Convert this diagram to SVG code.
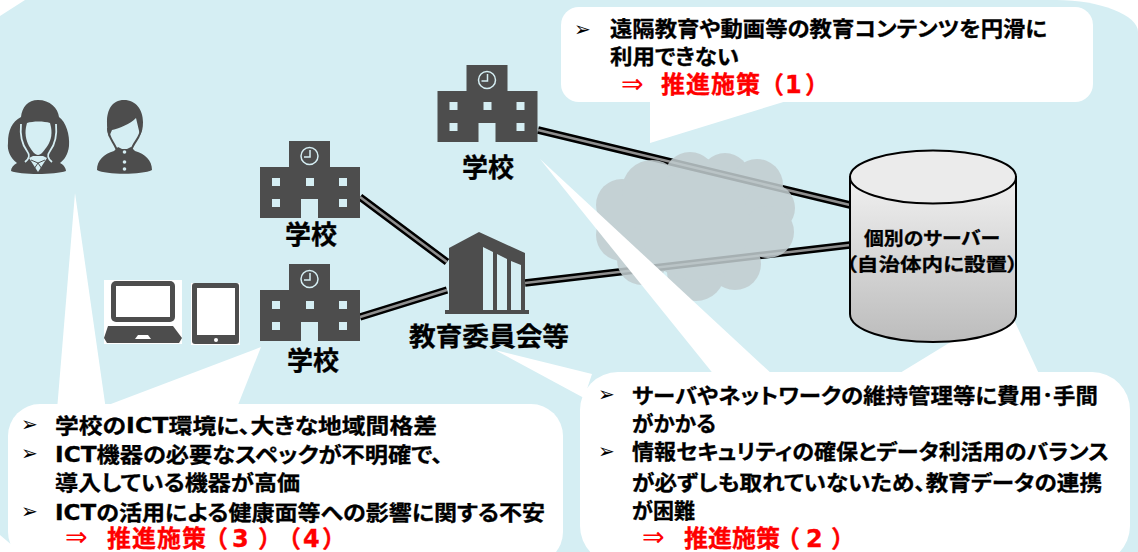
<svg xmlns="http://www.w3.org/2000/svg" xmlns:xlink="http://www.w3.org/1999/xlink" width="1138" height="552" viewBox="0 0 1138 552">
<style>
text{font-family:"DejaVu Sans","Noto Sans CJK JP",sans-serif;font-weight:700;fill:#000;stroke:#000;stroke-width:.3;font-feature-settings:"palt"}
.b{font-size:21px}
.l{font-size:26px}
.s{font-size:18.500px}
.r{fill:#f00;stroke:#f00;font-size:24px;font-feature-settings:normal}
.m{font-family:"DejaVu Sans",sans-serif;font-weight:400;font-size:20px;stroke:none}
.a{font-family:"DejaVu Sans",sans-serif;font-weight:400;font-size:27px;fill:#f00;stroke:none}
.d{fill:#4d4d4d}
.w{fill:#fff}
.o{fill:none;stroke:#000;stroke-width:7.500}
.g{fill:none;stroke:#8f8f8f;stroke-width:2.500}
</style>
<defs>
<linearGradient id="cy" x1="0" y1="0" x2="0" y2="1"><stop offset="0" stop-color="#f0f0f0"/><stop offset="1" stop-color="#bcbcbc"/></linearGradient>
<g id="school">
<path class="d" d="M29 0H70V26H100V77H58V58H41V77H0V26H29Z"/>
<g fill="#d5eef3"><rect x="12" y="37" width="8" height="8"/><rect x="46" y="37" width="8" height="8"/><rect x="79" y="37" width="8" height="8"/><rect x="12" y="58" width="8" height="8"/><rect x="79" y="58" width="8" height="8"/></g>
<circle cx="49.500" cy="15" r="8.500" fill="none" stroke="#d5eef3" stroke-width="1.500"/>
<path d="M50 9V16H44" fill="none" stroke="#d5eef3" stroke-width="1.500"/>
</g>
</defs>
<path id="background" d="M25 0H1056C1100 0 1138 15 1138 32V552H20L0 535V16Z" fill="#d5eef3"/>

<g id="connectors">
<path class="o" d="M538 130L850 205M360 197L447 262M360 317L447 290M525 283L850 245"/>
<path class="g" d="M538 130L850 205M360 197L447 262M360 317L447 290M525 283L850 245"/>
</g>

<g id="cloud" fill="#c2cdd0" opacity=".86">
<circle cx="690" cy="178" r="26"/><circle cx="725" cy="178" r="25"/><circle cx="757" cy="185" r="26"/><circle cx="770" cy="208" r="25"/><circle cx="768" cy="232" r="26"/><circle cx="735" cy="264" r="26"/><circle cx="696" cy="272" r="29"/><circle cx="642" cy="260" r="25"/><circle cx="622" cy="235" r="26"/><circle cx="622" cy="205" r="26"/><circle cx="652" cy="190" r="30"/><circle cx="695" cy="225" r="55"/>
</g>

<g id="tails" class="w">
<path d="M650 100V143L790 100Z"/>
<path d="M75 193L57 410H106Z"/>
<path d="M261 347L95 410H236Z"/>
<path d="M1008 307L895 376H1040Z"/>
<path d="M540 159L715 376H774Z"/>
<path d="M495 350L592 374L584 398Z"/>
</g>

<g id="box-1"><rect class="w" x="561" y="7" width="532" height="95" rx="18"/>
<text class="m" x="574" y="36">➢</text>
<text class="b" x="610" y="36" textLength="437" lengthAdjust="spacingAndGlyphs">遠隔教育や動画等の教育コンテンツを円滑に</text>
<text class="b" x="610" y="64" textLength="129" lengthAdjust="spacingAndGlyphs">利用できない</text>
<text class="a" x="621" y="93">⇒</text>
<text class="r" x="661 686 711 736 760 785 805" y="93">推進施策（1）</text></g>

<g id="box-2"><rect class="w" x="8" y="404" width="555" height="160" rx="32"/>
<text class="m" x="21" y="431">➢</text>
<text class="b" x="55" y="433" textLength="382" lengthAdjust="spacingAndGlyphs">学校のICT環境に、大きな地域間格差</text>
<text class="m" x="21" y="460">➢</text>
<text class="b" x="55" y="462" textLength="388" lengthAdjust="spacingAndGlyphs">ICT機器の必要なスペックが不明確で、</text>
<text class="b" x="55" y="490" textLength="245" lengthAdjust="spacingAndGlyphs">導入している機器が高価</text>
<text class="m" x="21" y="518">➢</text>
<text class="b" x="55" y="520" textLength="490" lengthAdjust="spacingAndGlyphs">ICTの活用による健康面等への影響に関する不安</text>
<text class="a" x="65" y="546">⇒</text>
<text class="r" x="107 132 157 182 204 232 258 277 303 322" y="547">推進施策（3）（4）</text></g>

<g id="box-3"><rect class="w" x="580" y="372" width="550" height="192" rx="38"/>
<text class="m" x="598" y="401">➢</text>
<text class="b" x="632" y="403" textLength="466" lengthAdjust="spacingAndGlyphs">サーバやネットワークの維持管理等に費用･手間</text>
<text class="b" x="632" y="431" textLength="84" lengthAdjust="spacingAndGlyphs">がかかる</text>
<text class="m" x="598" y="458">➢</text>
<text class="b" x="632" y="459" textLength="477" lengthAdjust="spacingAndGlyphs">情報セキュリティの確保とデータ利活用のバランス</text>
<text class="b" x="632" y="490" textLength="470" lengthAdjust="spacingAndGlyphs">が必ずしも取れていないため、教育データの連携</text>
<text class="b" x="632" y="518" textLength="63" lengthAdjust="spacingAndGlyphs">が困難</text>
<text class="a" x="642" y="546">⇒</text>
<text class="r" x="684 708 732 756 776 806 831" y="547">推進施策（2）</text></g>

<g id="school-top"><use xlink:href="#school" href="#school" x="437.500" y="65"/><text class="l" x="488" y="177" text-anchor="middle">学校</text></g>
<g id="school-mid"><use xlink:href="#school" href="#school" x="260" y="141"/><text class="l" x="311" y="244" text-anchor="middle">学校</text></g>
<g id="school-low"><use xlink:href="#school" href="#school" x="260" y="264"/><text class="l" x="313" y="370" text-anchor="middle">学校</text></g>

<g id="board"><path class="d" d="M449 248L479 232L525 253V310H529V314H445V310H449Z"/>
<path fill="#d5eef3" d="M483 247L493 252V310H483ZM497 254L507 259V310H497ZM511 261L521 265V310H511Z"/>
<text class="l" x="489" y="346" text-anchor="middle" textLength="160" lengthAdjust="spacingAndGlyphs">教育委員会等</text></g>

<g id="server"><path d="M850 177V314C850 330 888 342 933 342C978 342 1016 330 1016 314V177Z" fill="url(#cy)" stroke="#000" stroke-width="2"/>
<ellipse cx="933" cy="177" rx="83" ry="26.500" fill="#ebebeb" stroke="#000" stroke-width="2"/>
<text class="s" x="932" y="245" text-anchor="middle" textLength="136" lengthAdjust="spacingAndGlyphs">個別のサーバー</text>
<text class="s" x="932" y="271" text-anchor="middle" textLength="172" lengthAdjust="spacingAndGlyphs">（自治体内に設置）</text></g>

<g id="girl"><path class="d" d="M38 100C50 100 58 108 59 117C66 122 70 135 69 146C68 155 64 160 60 163C65 165 66 170 66 171C55 175 20 175 11 171C11 168 13 165 17 163C10 158 7 150 8 143C8 130 12 122 21 117C22 107 28 100 38 100Z"/>
<path fill="#d5eef3" d="M27 123C33 121 44 121 50 123C53 133 51 140 48 145C44 151 41 155 38 155C35 155 32 151 29 146C26 140 24 133 27 123Z"/>
<path fill="none" stroke="#d5eef3" stroke-width="1.800" d="M21 124C20 134 21 143 27 151C30 155 30 158 25 162M56 124C57 134 56 143 50 151C47 155 47 158 52 162"/>
<path fill="#d5eef3" d="M29 158L33 156H43L47 158L38 172Z"/>
<path fill="none" stroke="#4d4d4d" d="M31 160L38 163L45 160M38 163L34 169M38 163L42 169"/></g>

<g id="boy"><path class="d" d="M124 100C136 100 143 110 143 122C143 128 142 132 140 135L136 118C130 124 120 128 112 130L109 137C107 132 107 127 107 122C107 110 112 100 124 100Z"/>
<path fill="none" stroke="#4d4d4d" stroke-width="2" d="M108 128C108 136 112 140 115 146L118 152M141 128C141 136 136 140 133 146L130 152"/>
<path class="d" d="M114 151L118 147L122 149H127L131 147L135 151C145 154 152 160 152 170C142 175 106 175 97 170C97 160 104 154 114 151Z"/>
<g fill="#d5eef3"><circle cx="124.500" cy="152" r="1.800"/><circle cx="124.500" cy="162" r="1.800"/><circle cx="124.500" cy="169" r="1.800"/></g></g>

<g id="laptop"><rect class="w" x="104" y="280" width="78" height="64"/>
<rect class="d" x="111" y="281" width="64" height="41" rx="5"/><rect class="w" x="116" y="286" width="54" height="31"/>
<path class="d" d="M108 326H173L182 338L179 343H107L104 338Z"/>
<path fill="#fff" d="M138 335H148L151 339H135Z"/></g>

<g id="tablet"><rect class="w" x="191" y="283" width="49" height="62"/>
<rect class="d" x="192" y="283" width="47" height="61" rx="3"/><rect class="w" x="197" y="288" width="38" height="47"/><circle class="w" cx="216" cy="340" r="2"/></g>
</svg>
